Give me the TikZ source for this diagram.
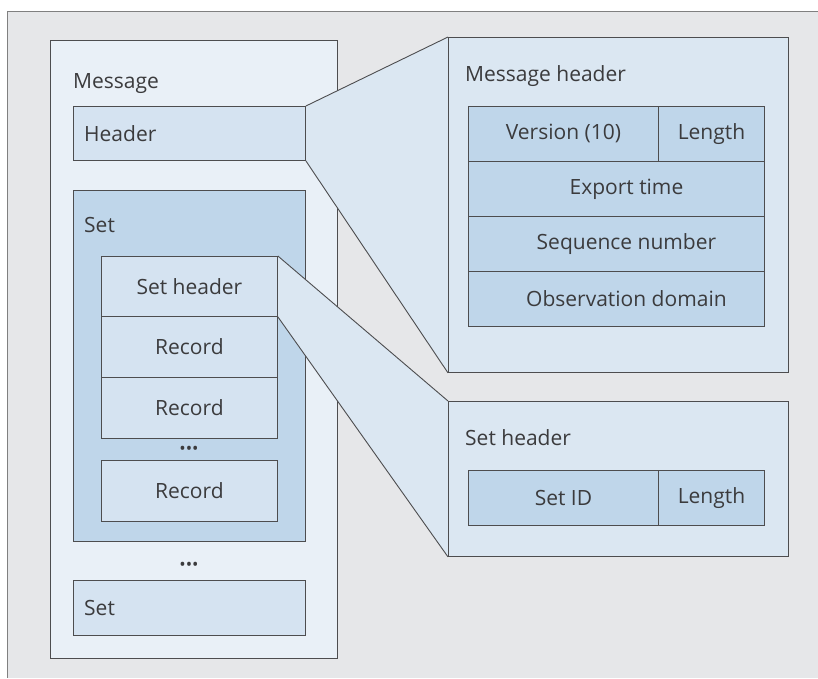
\documentclass[tikz,border=0pt]{standalone}
\usepackage{fontspec}
\setmainfont{Open Sans}
\usetikzlibrary{positioning}

\pgfdeclarelayer{page}
\pgfdeclarelayer{bg}
\pgfdeclarelayer{mid}
\pgfsetlayers{page,bg,mid,main}

\definecolor{pagegray}{HTML}{E6E7E9}
\definecolor{msgfill}{HTML}{E9F0F7}
\definecolor{hdrfill}{HTML}{D5E3F1}
\definecolor{setfill}{HTML}{BFD6EA}
\definecolor{panelfill}{HTML}{DBE7F2}
\definecolor{edgegray}{HTML}{4D4D4F}
\definecolor{ink}{HTML}{3B3B3D}

\tikzset{
	box/.style={draw=edgegray, line width=0.9pt, inner sep=0pt, anchor=north west,
		text=ink, font=\fontsize{21}{24}\selectfont},
	lbl/.style={text=ink, font=\fontsize{21}{24}\selectfont, inner sep=0pt},
	dots/.style={text=ink, font=\fontsize{17}{20}\selectfont, inner sep=0pt},
	funnel/.style={draw=edgegray, line width=0.9pt},
}

\begin{document}
\begin{tikzpicture}[x=1pt, y=-1pt]
	\useasboundingbox (0,0) rectangle (818,678);
	\begin{pgfonlayer}{page}
		\fill[pagegray] (7,11) rectangle (818,678);
		\draw[gray, line width=0.8pt] (818,11) -- (7,11) -- (7,678);
	\end{pgfonlayer}

	% message side
	\begin{pgfonlayer}{bg}
		\node[box, fill=msgfill, minimum width=287pt, minimum height=618pt] (msg) at (50,40) {};
		\node[box, fill=setfill, minimum width=232pt, minimum height=351pt] (set) at (73,190) {};
		\node[box, fill=hdrfill, minimum width=232pt, minimum height=55pt] (set2) at (73,580) {};
	\end{pgfonlayer}
	\node[lbl, anchor=base west] (msglbl) at (73,88) {Message};
	\node[box, fill=hdrfill, minimum width=232pt, minimum height=54pt] (hdr) at (73,106) {};
	\node[lbl, anchor=base west] (hdrlbl) at (84,141) {Header};
	\node[lbl, anchor=base west] (setlbl) at (84,232) {Set};
	\node[box, fill=hdrfill, minimum width=176pt, minimum height=60pt] (sethdr) at (101,256) {Set header};
	\node[box, fill=hdrfill, minimum width=176pt, minimum height=61pt] (rec1) at (101,316) {Record};
	\node[box, fill=hdrfill, minimum width=176pt, minimum height=61pt] (rec2) at (101,377) {Record};
	\node[dots] (dotsa) at (189,450) {•••};
	\node[box, fill=hdrfill, minimum width=176pt, minimum height=61pt] (rec3) at (101,460) {Record};
	\node[dots] (dotsb) at (189,566) {•••};
	\node[lbl, anchor=base west] (set2lbl) at (84,615) {Set};

	% message header panel
	\node[box, fill=panelfill, minimum width=340pt, minimum height=335pt] (mhp) at (448,37) {};
	\node[lbl, anchor=base west] (mhplbl) at (465,81) {Message header};
	\node[box, fill=setfill, minimum width=190pt, minimum height=55pt] (ver) at (468,106) {Version (10)};
	\node[box, fill=setfill, minimum width=106pt, minimum height=55pt] (len) at (658,106) {Length};
	\node[box, fill=setfill, minimum width=296pt, minimum height=55pt] (exp) at (468,161) {};
	\node[box, fill=setfill, minimum width=296pt, minimum height=55pt] (seq) at (468,216) {};
	\node[box, fill=setfill, minimum width=296pt, minimum height=55pt] (obs) at (468,271) {};
	\node[lbl] (explbl) at ([xshift=10pt]exp.center) {Export time};
	\node[lbl] (seqlbl) at ([xshift=10pt]seq.center) {Sequence number};
	\node[lbl] (obslbl) at ([xshift=10pt]obs.center) {Observation domain};

	% set header panel
	\node[box, fill=panelfill, minimum width=340pt, minimum height=155pt] (shp) at (448,401) {};
	\node[lbl, anchor=base west] (shplbl) at (465,445) {Set header};
	\node[box, fill=setfill, minimum width=190pt, minimum height=55pt] (sid) at (468,470) {Set ID};
	\node[box, fill=setfill, minimum width=106pt, minimum height=55pt] (slen) at (658,470) {Length};

	% zoom funnels
	\begin{pgfonlayer}{mid}
		\fill[panelfill] (hdr.north east) -- (mhp.north west) -- (mhp.south west) -- (hdr.south east) -- cycle;
		\draw[funnel] (hdr.north east) -- (mhp.north west) (hdr.south east) -- (mhp.south west);
		\fill[panelfill] (sethdr.north east) -- (shp.north west) -- (shp.south west) -- (sethdr.south east) -- cycle;
		\draw[funnel] (sethdr.north east) -- (shp.north west) (sethdr.south east) -- (shp.south west);
	\end{pgfonlayer}
\end{tikzpicture}
\end{document}
